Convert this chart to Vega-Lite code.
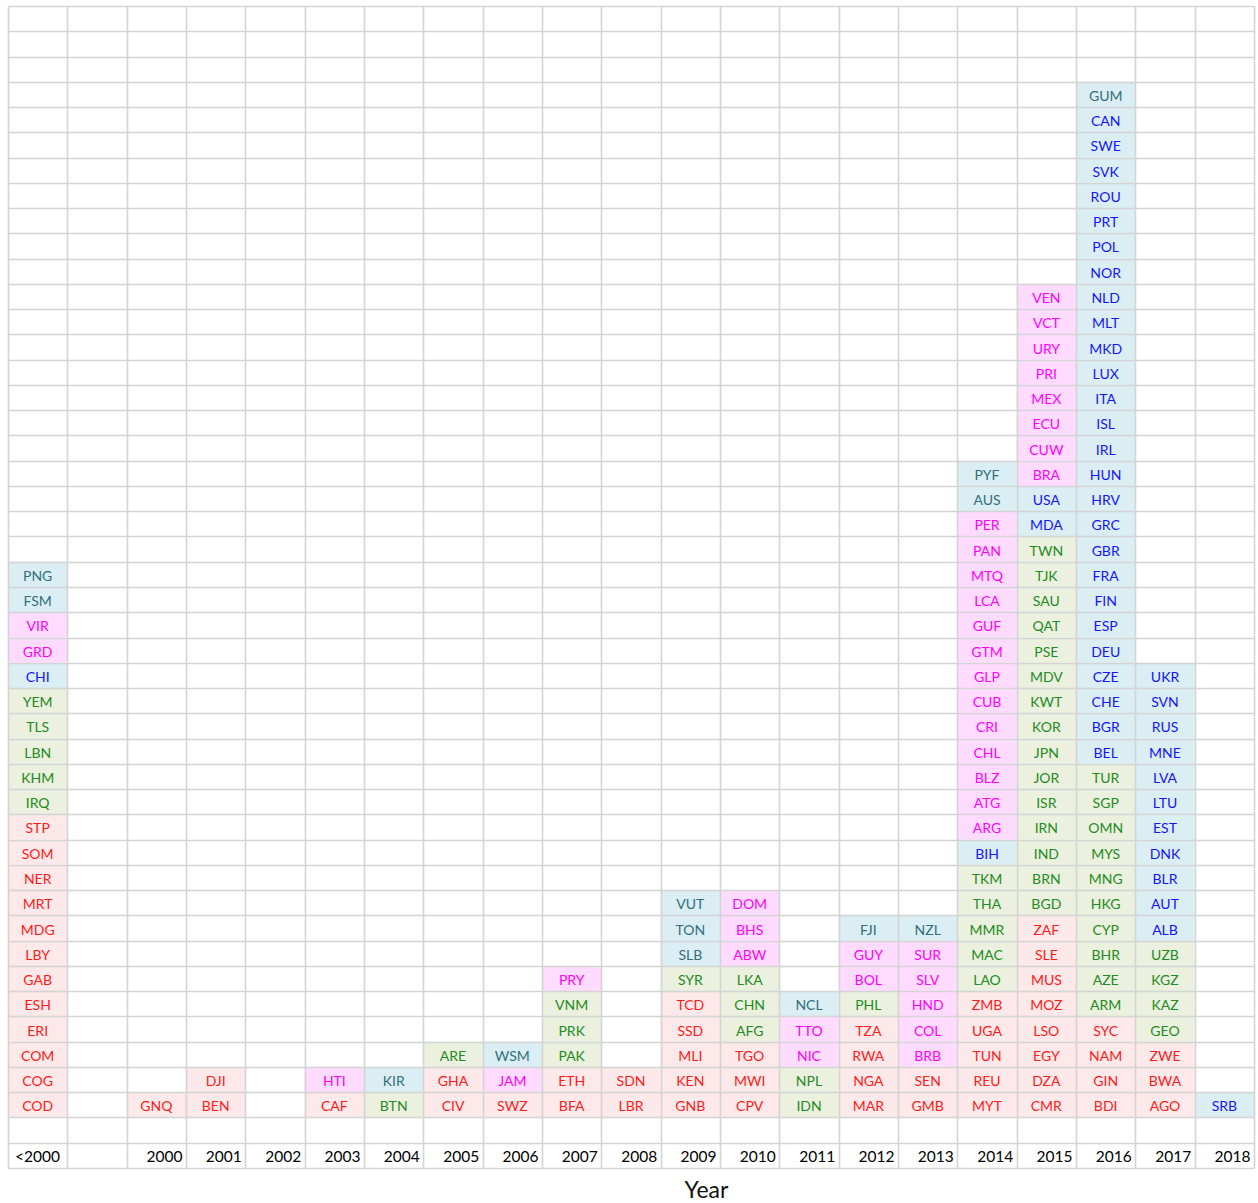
{
  "$schema": "https://vega.github.io/schema/vega-lite/v6.json",
  "width": 1246,
  "height": 1162,
  "autosize": "none",
  "padding": {"left": 8, "top": 6, "right": 4, "bottom": 35},
  "background": "white",
  "view": {"stroke": null},
  "config": {"font": "Lato"},
  "datasets": {
    "cells": [
      {"year":"<2000","code":"COD","region":"Africa"},{"year":"<2000","code":"COG","region":"Africa"},{"year":"<2000","code":"COM","region":"Africa"},{"year":"<2000","code":"ERI","region":"Africa"},{"year":"<2000","code":"ESH","region":"Africa"},{"year":"<2000","code":"GAB","region":"Africa"},{"year":"<2000","code":"LBY","region":"Africa"},{"year":"<2000","code":"MDG","region":"Africa"},{"year":"<2000","code":"MRT","region":"Africa"},{"year":"<2000","code":"NER","region":"Africa"},{"year":"<2000","code":"SOM","region":"Africa"},{"year":"<2000","code":"STP","region":"Africa"},
      {"year":"<2000","code":"IRQ","region":"Asia"},{"year":"<2000","code":"KHM","region":"Asia"},{"year":"<2000","code":"LBN","region":"Asia"},{"year":"<2000","code":"TLS","region":"Asia"},{"year":"<2000","code":"YEM","region":"Asia"},
      {"year":"<2000","code":"CHI","region":"Europe"},
      {"year":"<2000","code":"GRD","region":"Latin America"},{"year":"<2000","code":"VIR","region":"Latin America"},
      {"year":"<2000","code":"FSM","region":"Oceania"},{"year":"<2000","code":"PNG","region":"Oceania"},
      {"year":"2000","code":"GNQ","region":"Africa"},
      {"year":"2001","code":"BEN","region":"Africa"},{"year":"2001","code":"DJI","region":"Africa"},
      {"year":"2003","code":"CAF","region":"Africa"},{"year":"2003","code":"HTI","region":"Latin America"},
      {"year":"2004","code":"BTN","region":"Asia"},{"year":"2004","code":"KIR","region":"Oceania"},
      {"year":"2005","code":"CIV","region":"Africa"},{"year":"2005","code":"GHA","region":"Africa"},{"year":"2005","code":"ARE","region":"Asia"},
      {"year":"2006","code":"SWZ","region":"Africa"},{"year":"2006","code":"JAM","region":"Latin America"},{"year":"2006","code":"WSM","region":"Oceania"},
      {"year":"2007","code":"BFA","region":"Africa"},{"year":"2007","code":"ETH","region":"Africa"},{"year":"2007","code":"PAK","region":"Asia"},{"year":"2007","code":"PRK","region":"Asia"},{"year":"2007","code":"VNM","region":"Asia"},{"year":"2007","code":"PRY","region":"Latin America"},
      {"year":"2008","code":"LBR","region":"Africa"},{"year":"2008","code":"SDN","region":"Africa"},
      {"year":"2009","code":"GNB","region":"Africa"},{"year":"2009","code":"KEN","region":"Africa"},{"year":"2009","code":"MLI","region":"Africa"},{"year":"2009","code":"SSD","region":"Africa"},{"year":"2009","code":"TCD","region":"Africa"},{"year":"2009","code":"SYR","region":"Asia"},{"year":"2009","code":"SLB","region":"Oceania"},{"year":"2009","code":"TON","region":"Oceania"},{"year":"2009","code":"VUT","region":"Oceania"},
      {"year":"2010","code":"CPV","region":"Africa"},{"year":"2010","code":"MWI","region":"Africa"},{"year":"2010","code":"TGO","region":"Africa"},{"year":"2010","code":"AFG","region":"Asia"},{"year":"2010","code":"CHN","region":"Asia"},{"year":"2010","code":"LKA","region":"Asia"},{"year":"2010","code":"ABW","region":"Latin America"},{"year":"2010","code":"BHS","region":"Latin America"},{"year":"2010","code":"DOM","region":"Latin America"},
      {"year":"2011","code":"IDN","region":"Asia"},{"year":"2011","code":"NPL","region":"Asia"},{"year":"2011","code":"NIC","region":"Latin America"},{"year":"2011","code":"TTO","region":"Latin America"},{"year":"2011","code":"NCL","region":"Oceania"},
      {"year":"2012","code":"MAR","region":"Africa"},{"year":"2012","code":"NGA","region":"Africa"},{"year":"2012","code":"RWA","region":"Africa"},{"year":"2012","code":"TZA","region":"Africa"},{"year":"2012","code":"PHL","region":"Asia"},{"year":"2012","code":"BOL","region":"Latin America"},{"year":"2012","code":"GUY","region":"Latin America"},{"year":"2012","code":"FJI","region":"Oceania"},
      {"year":"2013","code":"GMB","region":"Africa"},{"year":"2013","code":"SEN","region":"Africa"},{"year":"2013","code":"BRB","region":"Latin America"},{"year":"2013","code":"COL","region":"Latin America"},{"year":"2013","code":"HND","region":"Latin America"},{"year":"2013","code":"SLV","region":"Latin America"},{"year":"2013","code":"SUR","region":"Latin America"},{"year":"2013","code":"NZL","region":"Oceania"},
      {"year":"2014","code":"MYT","region":"Africa"},{"year":"2014","code":"REU","region":"Africa"},{"year":"2014","code":"TUN","region":"Africa"},{"year":"2014","code":"UGA","region":"Africa"},{"year":"2014","code":"ZMB","region":"Africa"},
      {"year":"2014","code":"LAO","region":"Asia"},{"year":"2014","code":"MAC","region":"Asia"},{"year":"2014","code":"MMR","region":"Asia"},{"year":"2014","code":"THA","region":"Asia"},{"year":"2014","code":"TKM","region":"Asia"},
      {"year":"2014","code":"BIH","region":"Europe"},
      {"year":"2014","code":"ARG","region":"Latin America"},{"year":"2014","code":"ATG","region":"Latin America"},{"year":"2014","code":"BLZ","region":"Latin America"},{"year":"2014","code":"CHL","region":"Latin America"},{"year":"2014","code":"CRI","region":"Latin America"},{"year":"2014","code":"CUB","region":"Latin America"},{"year":"2014","code":"GLP","region":"Latin America"},{"year":"2014","code":"GTM","region":"Latin America"},{"year":"2014","code":"GUF","region":"Latin America"},{"year":"2014","code":"LCA","region":"Latin America"},{"year":"2014","code":"MTQ","region":"Latin America"},{"year":"2014","code":"PAN","region":"Latin America"},{"year":"2014","code":"PER","region":"Latin America"},
      {"year":"2014","code":"AUS","region":"Oceania"},{"year":"2014","code":"PYF","region":"Oceania"},
      {"year":"2015","code":"CMR","region":"Africa"},{"year":"2015","code":"DZA","region":"Africa"},{"year":"2015","code":"EGY","region":"Africa"},{"year":"2015","code":"LSO","region":"Africa"},{"year":"2015","code":"MOZ","region":"Africa"},{"year":"2015","code":"MUS","region":"Africa"},{"year":"2015","code":"SLE","region":"Africa"},{"year":"2015","code":"ZAF","region":"Africa"},
      {"year":"2015","code":"BGD","region":"Asia"},{"year":"2015","code":"BRN","region":"Asia"},{"year":"2015","code":"IND","region":"Asia"},{"year":"2015","code":"IRN","region":"Asia"},{"year":"2015","code":"ISR","region":"Asia"},{"year":"2015","code":"JOR","region":"Asia"},{"year":"2015","code":"JPN","region":"Asia"},{"year":"2015","code":"KOR","region":"Asia"},{"year":"2015","code":"KWT","region":"Asia"},{"year":"2015","code":"MDV","region":"Asia"},{"year":"2015","code":"PSE","region":"Asia"},{"year":"2015","code":"QAT","region":"Asia"},{"year":"2015","code":"SAU","region":"Asia"},{"year":"2015","code":"TJK","region":"Asia"},{"year":"2015","code":"TWN","region":"Asia"},
      {"year":"2015","code":"MDA","region":"Europe"},{"year":"2015","code":"USA","region":"Europe"},
      {"year":"2015","code":"BRA","region":"Latin America"},{"year":"2015","code":"CUW","region":"Latin America"},{"year":"2015","code":"ECU","region":"Latin America"},{"year":"2015","code":"MEX","region":"Latin America"},{"year":"2015","code":"PRI","region":"Latin America"},{"year":"2015","code":"URY","region":"Latin America"},{"year":"2015","code":"VCT","region":"Latin America"},{"year":"2015","code":"VEN","region":"Latin America"},
      {"year":"2016","code":"BDI","region":"Africa"},{"year":"2016","code":"GIN","region":"Africa"},{"year":"2016","code":"NAM","region":"Africa"},{"year":"2016","code":"SYC","region":"Africa"},
      {"year":"2016","code":"ARM","region":"Asia"},{"year":"2016","code":"AZE","region":"Asia"},{"year":"2016","code":"BHR","region":"Asia"},{"year":"2016","code":"CYP","region":"Asia"},{"year":"2016","code":"HKG","region":"Asia"},{"year":"2016","code":"MNG","region":"Asia"},{"year":"2016","code":"MYS","region":"Asia"},{"year":"2016","code":"OMN","region":"Asia"},{"year":"2016","code":"SGP","region":"Asia"},{"year":"2016","code":"TUR","region":"Asia"},
      {"year":"2016","code":"BEL","region":"Europe"},{"year":"2016","code":"BGR","region":"Europe"},{"year":"2016","code":"CHE","region":"Europe"},{"year":"2016","code":"CZE","region":"Europe"},{"year":"2016","code":"DEU","region":"Europe"},{"year":"2016","code":"ESP","region":"Europe"},{"year":"2016","code":"FIN","region":"Europe"},{"year":"2016","code":"FRA","region":"Europe"},{"year":"2016","code":"GBR","region":"Europe"},{"year":"2016","code":"GRC","region":"Europe"},{"year":"2016","code":"HRV","region":"Europe"},{"year":"2016","code":"HUN","region":"Europe"},{"year":"2016","code":"IRL","region":"Europe"},{"year":"2016","code":"ISL","region":"Europe"},{"year":"2016","code":"ITA","region":"Europe"},{"year":"2016","code":"LUX","region":"Europe"},{"year":"2016","code":"MKD","region":"Europe"},{"year":"2016","code":"MLT","region":"Europe"},{"year":"2016","code":"NLD","region":"Europe"},{"year":"2016","code":"NOR","region":"Europe"},{"year":"2016","code":"POL","region":"Europe"},{"year":"2016","code":"PRT","region":"Europe"},{"year":"2016","code":"ROU","region":"Europe"},{"year":"2016","code":"SVK","region":"Europe"},{"year":"2016","code":"SWE","region":"Europe"},{"year":"2016","code":"CAN","region":"Europe"},
      {"year":"2016","code":"GUM","region":"Oceania"},
      {"year":"2017","code":"AGO","region":"Africa"},{"year":"2017","code":"BWA","region":"Africa"},{"year":"2017","code":"ZWE","region":"Africa"},
      {"year":"2017","code":"GEO","region":"Asia"},{"year":"2017","code":"KAZ","region":"Asia"},{"year":"2017","code":"KGZ","region":"Asia"},{"year":"2017","code":"UZB","region":"Asia"},
      {"year":"2017","code":"ALB","region":"Europe"},{"year":"2017","code":"AUT","region":"Europe"},{"year":"2017","code":"BLR","region":"Europe"},{"year":"2017","code":"DNK","region":"Europe"},{"year":"2017","code":"EST","region":"Europe"},{"year":"2017","code":"LTU","region":"Europe"},{"year":"2017","code":"LVA","region":"Europe"},{"year":"2017","code":"MNE","region":"Europe"},{"year":"2017","code":"RUS","region":"Europe"},{"year":"2017","code":"SVN","region":"Europe"},{"year":"2017","code":"UKR","region":"Europe"},
      {"year":"2018","code":"SRB","region":"Europe"}
    ],
    "years": [
      {"year":"<2000"},{"year":"2000"},{"year":"2001"},{"year":"2002"},{"year":"2003"},{"year":"2004"},{"year":"2005"},{"year":"2006"},{"year":"2007"},{"year":"2008"},{"year":"2009"},{"year":"2010"},{"year":"2011"},{"year":"2012"},{"year":"2013"},{"year":"2014"},{"year":"2015"},{"year":"2016"},{"year":"2017"},{"year":"2018"}
    ]
  },
  "layer": [
    {
      "data": {"name": "cells"},
      "transform": [{"window": [{"op": "row_number", "as": "row"}], "groupby": ["year"]}],
      "mark": {"type": "rect"},
      "encoding": {
        "x": {
          "field": "year", "type": "nominal",
          "scale": {"domain": ["<2000","_","2000","2001","2002","2003","2004","2005","2006","2007","2008","2009","2010","2011","2012","2013","2014","2015","2016","2017","2018"], "paddingInner": 0, "paddingOuter": 0},
          "axis": {"orient": "bottom", "labels": false, "ticks": false, "domain": false, "grid": true, "tickBand": "extent", "gridColor": "#d4d4d4", "gridWidth": 1.6,
                   "title": "Year", "titleFont": "Lato", "titleFontSize": 23, "titleFontWeight": "normal", "titleColor": "#111", "titleX": 698, "titleY": 29, "titleBaseline": "alphabetic", "titleAnchor": null}
        },
        "y": {
          "field": "row", "type": "ordinal",
          "scale": {"domain": [44,43,42,41,40,39,38,37,36,35,34,33,32,31,30,29,28,27,26,25,24,23,22,21,20,19,18,17,16,15,14,13,12,11,10,9,8,7,6,5,4,3,2,1,0,-1], "paddingInner": 0, "paddingOuter": 0},
          "axis": {"labels": false, "ticks": false, "domain": false, "grid": true, "tickBand": "extent", "gridColor": "#d4d4d4", "gridWidth": 1.6, "title": null}
        },
        "color": {
          "field": "region", "type": "nominal", "legend": null,
          "scale": {"domain": ["Africa","Asia","Europe","Latin America","Oceania"], "range": ["#fde9e9","#ebf1de","#daeef3","#ffdcff","#daeef3"]}
        }
      }
    },
    {
      "data": {"name": "cells"},
      "transform": [{"window": [{"op": "row_number", "as": "row"}], "groupby": ["year"]}],
      "mark": {"type": "text", "font": "Lato", "fontSize": 14, "baseline": "middle", "align": "center", "dy": 2.5},
      "encoding": {
        "x": {"field": "year", "type": "nominal"},
        "y": {"field": "row", "type": "ordinal"},
        "text": {"field": "code"},
        "color": {
          "field": "region", "type": "nominal", "legend": null,
          "scale": {"domain": ["Africa","Asia","Europe","Latin America","Oceania"], "range": ["#ff1a1a","#238b23","#1414ff","#ff00ff","#336e7b"]}
        }
      }
    },
    {
      "data": {"name": "years"},
      "transform": [{"filter": "datum.year != '<2000'"}],
      "mark": {"type": "text", "font": "Lato", "fontSize": 15.5, "baseline": "middle", "align": "right", "dx": -3.5, "dy": 2, "color": "#000"},
      "encoding": {
        "x": {"field": "year", "type": "nominal", "bandPosition": 1},
        "y": {"datum": -1, "type": "ordinal"},
        "text": {"field": "year"}
      }
    },
    {
      "data": {"name": "years"},
      "transform": [{"filter": "datum.year == '<2000'"}],
      "mark": {"type": "text", "font": "Lato", "fontSize": 15.5, "baseline": "middle", "align": "left", "dx": 7, "dy": 2, "color": "#000"},
      "encoding": {
        "x": {"field": "year", "type": "nominal", "bandPosition": 0},
        "y": {"datum": -1, "type": "ordinal"},
        "text": {"field": "year"}
      }
    }
  ],
  "resolve": {"scale": {"color": "independent"}}
}
